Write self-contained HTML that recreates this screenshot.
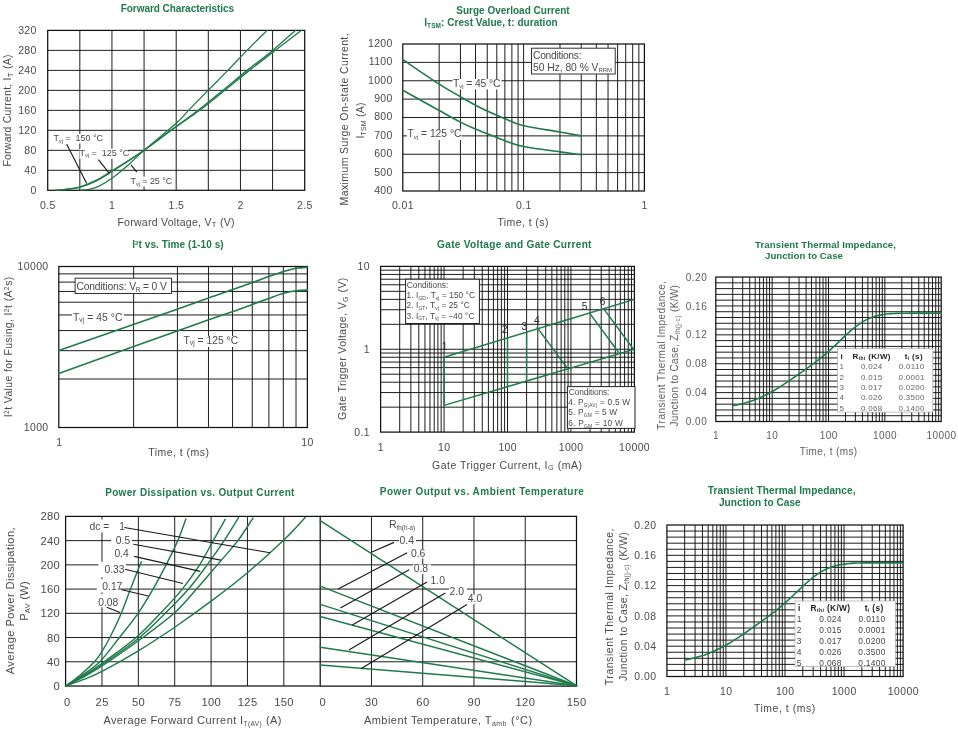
<!DOCTYPE html>
<html lang="en">
<head>
<meta charset="utf-8">
<title>Characteristic Curves</title>
<style>
html,body{margin:0;padding:0;background:#fff;}
body{width:958px;height:733px;overflow:hidden;}
svg{display:block;font-family:"Liberation Sans",sans-serif;}
svg text{white-space:pre;}
</style>
</head>
<body>
<svg width="958" height="733" viewBox="0 0 958 733">
<rect x="0" y="0" width="958" height="733" fill="#ffffff"/>
<g opacity="0.999">
<g id="c1">
<line x1="79.83" y1="30.4" x2="79.83" y2="190.3" stroke="#111" stroke-width="0.95" />
<line x1="47.7" y1="50.39" x2="304.7" y2="50.39" stroke="#111" stroke-width="0.95" />
<line x1="111.95" y1="30.4" x2="111.95" y2="190.3" stroke="#111" stroke-width="0.95" />
<line x1="47.7" y1="70.38" x2="304.7" y2="70.38" stroke="#111" stroke-width="0.95" />
<line x1="144.07" y1="30.4" x2="144.07" y2="190.3" stroke="#111" stroke-width="0.95" />
<line x1="47.7" y1="90.36" x2="304.7" y2="90.36" stroke="#111" stroke-width="0.95" />
<line x1="176.2" y1="30.4" x2="176.2" y2="190.3" stroke="#111" stroke-width="0.95" />
<line x1="47.7" y1="110.35" x2="304.7" y2="110.35" stroke="#111" stroke-width="0.95" />
<line x1="208.32" y1="30.4" x2="208.32" y2="190.3" stroke="#111" stroke-width="0.95" />
<line x1="47.7" y1="130.34" x2="304.7" y2="130.34" stroke="#111" stroke-width="0.95" />
<line x1="240.45" y1="30.4" x2="240.45" y2="190.3" stroke="#111" stroke-width="0.95" />
<line x1="47.7" y1="150.33" x2="304.7" y2="150.33" stroke="#111" stroke-width="0.95" />
<line x1="272.57" y1="30.4" x2="272.57" y2="190.3" stroke="#111" stroke-width="0.95" />
<line x1="47.7" y1="170.31" x2="304.7" y2="170.31" stroke="#111" stroke-width="0.95" />
<rect x="47.7" y="30.4" width="257" height="159.9" fill="none" stroke="#111" stroke-width="1.25"/>
<text x="177.4" y="11.5" font-size="10.0" text-anchor="middle" fill="#1f7a4c" font-weight="bold"  textLength="113.4" lengthAdjust="spacing">Forward Characteristics</text>
<text x="36.75" y="34.2" font-size="10.5" text-anchor="end" fill="#4a4a4a" font-weight="normal"  letter-spacing="0.35">320</text>
<text x="36.75" y="54.19" font-size="10.5" text-anchor="end" fill="#4a4a4a" font-weight="normal"  letter-spacing="0.35">280</text>
<text x="36.75" y="74.17" font-size="10.5" text-anchor="end" fill="#4a4a4a" font-weight="normal"  letter-spacing="0.35">240</text>
<text x="36.75" y="94.16" font-size="10.5" text-anchor="end" fill="#4a4a4a" font-weight="normal"  letter-spacing="0.35">200</text>
<text x="36.75" y="114.15" font-size="10.5" text-anchor="end" fill="#4a4a4a" font-weight="normal"  letter-spacing="0.35">160</text>
<text x="36.75" y="134.14" font-size="10.5" text-anchor="end" fill="#4a4a4a" font-weight="normal"  letter-spacing="0.35">120</text>
<text x="36.75" y="154.13" font-size="10.5" text-anchor="end" fill="#4a4a4a" font-weight="normal"  letter-spacing="0.35">80</text>
<text x="36.75" y="174.11" font-size="10.5" text-anchor="end" fill="#4a4a4a" font-weight="normal"  letter-spacing="0.35">40</text>
<text x="36.75" y="194.1" font-size="10.5" text-anchor="end" fill="#4a4a4a" font-weight="normal"  letter-spacing="0.35">0</text>
<text x="47.88" y="208.5" font-size="10.5" text-anchor="middle" fill="#4a4a4a" font-weight="normal"  letter-spacing="0.35">0.5</text>
<text x="112.12" y="208.5" font-size="10.5" text-anchor="middle" fill="#4a4a4a" font-weight="normal"  letter-spacing="0.35">1</text>
<text x="176.38" y="208.5" font-size="10.5" text-anchor="middle" fill="#4a4a4a" font-weight="normal"  letter-spacing="0.35">1.5</text>
<text x="240.62" y="208.5" font-size="10.5" text-anchor="middle" fill="#4a4a4a" font-weight="normal"  letter-spacing="0.35">2</text>
<text x="304.88" y="208.5" font-size="10.5" text-anchor="middle" fill="#4a4a4a" font-weight="normal"  letter-spacing="0.35">2.5</text>
<text x="176" y="225.6" font-size="10.5" text-anchor="middle" fill="#4a4a4a" font-weight="normal"  textLength="117.2" lengthAdjust="spacing">Forward Voltage, V<tspan font-size="7.5" dy="1.5">T</tspan><tspan dy="-1.5" font-size="1">&#8203;</tspan> (V)</text>
<text x="11.4" y="110.6" font-size="10.5" text-anchor="middle" fill="#4a4a4a" font-weight="normal" transform="rotate(-90 11.4 110.6)"  textLength="112" lengthAdjust="spacing">Forward Current, I<tspan font-size="7.5" dy="1.5">T</tspan><tspan dy="-1.5" font-size="1">&#8203;</tspan> (A)</text>
<rect x="53" y="134" width="49" height="9.5" fill="#fff" stroke="none" stroke-width="1.0"/>
<rect x="79.5" y="148.8" width="48.5" height="10" fill="#fff" stroke="none" stroke-width="1.0"/>
<rect x="130.5" y="176.6" width="41.5" height="10" fill="#fff" stroke="none" stroke-width="1.0"/>
<path d="M55.41,190.1 C56.8,190.01 59.69,190.1 63.76,189.55 C67.83,189 74.47,188.34 79.83,186.8 C85.18,185.26 90.53,182.97 95.89,180.31 C101.24,177.64 106.6,174.06 111.95,170.81 C117.3,167.56 122.66,164.23 128.01,160.82 C133.37,157.4 136.04,155.99 144.07,150.33 C152.11,144.66 166.93,133.5 176.2,126.84 C185.47,120.18 191.62,116.43 199.72,110.35 C207.81,104.27 216.48,97.03 224.77,90.36 C233.06,83.7 241.05,77.04 249.44,70.38 C257.84,63.71 266.51,57.05 275.14,50.39 C283.78,43.73 296.88,33.73 301.23,30.4" fill="none" stroke="#1f7a4c" stroke-width="1.3" stroke-linecap="round" stroke-linejoin="round"/>
<path d="M56.69,190.1 C57.87,190.03 59.91,190.17 63.76,189.7 C67.62,189.23 74.47,188.74 79.83,187.3 C85.18,185.86 90.53,183.68 95.89,181.06 C101.24,178.43 106.6,174.85 111.95,171.56 C117.3,168.27 122.66,164.86 128.01,161.32 C133.37,157.78 136.04,156.15 144.07,150.33 C152.11,144.5 167.18,133 176.2,126.34 C185.22,119.68 190.4,116.35 198.17,110.35 C205.95,104.35 214.69,97.03 222.85,90.36 C231.01,83.7 238.84,77.04 247.13,70.38 C255.42,63.71 264.54,57.05 272.57,50.39 C280.61,43.73 291.53,33.73 295.32,30.4" fill="none" stroke="#1f7a4c" stroke-width="1.3" stroke-linecap="round" stroke-linejoin="round"/>
<path d="M81.11,190.1 C82.4,189.97 85.82,189.98 88.82,189.3 C91.82,188.63 95.25,187.88 99.1,186.05 C102.96,184.22 107.13,181.76 111.95,178.31 C116.77,174.85 122.66,169.98 128.01,165.32 C133.37,160.65 136.04,157.32 144.07,150.33 C152.11,143.33 168.79,130 176.2,123.34 C183.61,116.68 183.22,115.85 188.54,110.35 C193.85,104.85 201.51,97.03 208.07,90.36 C214.62,83.7 221.37,77.04 227.86,70.38 C234.35,63.71 240.47,57.05 247,50.39 C253.54,43.73 263.71,33.73 267.05,30.4" fill="none" stroke="#1f7a4c" stroke-width="1.3" stroke-linecap="round" stroke-linejoin="round"/>
<line x1="66.7" y1="144.2" x2="86.7" y2="183.5" stroke="#1a1a1a" stroke-width="1.15" />
<line x1="98.4" y1="159.7" x2="109.3" y2="173.4" stroke="#1a1a1a" stroke-width="1.15" />
<line x1="131" y1="164.8" x2="136.8" y2="172.1" stroke="#1a1a1a" stroke-width="1.15" />
<text x="53.4" y="141.2" font-size="9.0" text-anchor="start" fill="#4a4a4a" font-weight="normal"  textLength="49.6" lengthAdjust="spacing">T<tspan font-size="5.8" dy="1.5">vj</tspan><tspan dy="-1.5" font-size="1">&#8203;</tspan> =  150 °C</text>
<text x="79.6" y="155.7" font-size="9.0" text-anchor="start" fill="#4a4a4a" font-weight="normal"  textLength="49.6" lengthAdjust="spacing">T<tspan font-size="5.8" dy="1.5">vj</tspan><tspan dy="-1.5" font-size="1">&#8203;</tspan> =  125 °C</text>
<text x="130.6" y="184.2" font-size="9.0" text-anchor="start" fill="#4a4a4a" font-weight="normal"  textLength="41.6" lengthAdjust="spacing">T<tspan font-size="5.8" dy="1.5">vj</tspan><tspan dy="-1.5" font-size="1">&#8203;</tspan> = 25 °C</text>
</g>
<g id="c2">
<line x1="439.16" y1="44" x2="439.16" y2="191" stroke="#111" stroke-width="0.95" />
<line x1="460.44" y1="44" x2="460.44" y2="191" stroke="#111" stroke-width="0.95" />
<line x1="475.53" y1="44" x2="475.53" y2="191" stroke="#111" stroke-width="0.95" />
<line x1="487.24" y1="44" x2="487.24" y2="191" stroke="#111" stroke-width="0.95" />
<line x1="496.8" y1="44" x2="496.8" y2="191" stroke="#111" stroke-width="0.95" />
<line x1="504.89" y1="44" x2="504.89" y2="191" stroke="#111" stroke-width="0.95" />
<line x1="511.89" y1="44" x2="511.89" y2="191" stroke="#111" stroke-width="0.95" />
<line x1="518.07" y1="44" x2="518.07" y2="191" stroke="#111" stroke-width="0.95" />
<line x1="523.6" y1="44" x2="523.6" y2="191" stroke="#111" stroke-width="0.95" />
<line x1="559.96" y1="44" x2="559.96" y2="191" stroke="#111" stroke-width="0.95" />
<line x1="581.24" y1="44" x2="581.24" y2="191" stroke="#111" stroke-width="0.95" />
<line x1="596.33" y1="44" x2="596.33" y2="191" stroke="#111" stroke-width="0.95" />
<line x1="608.04" y1="44" x2="608.04" y2="191" stroke="#111" stroke-width="0.95" />
<line x1="617.6" y1="44" x2="617.6" y2="191" stroke="#111" stroke-width="0.95" />
<line x1="625.69" y1="44" x2="625.69" y2="191" stroke="#111" stroke-width="0.95" />
<line x1="632.69" y1="44" x2="632.69" y2="191" stroke="#111" stroke-width="0.95" />
<line x1="638.87" y1="44" x2="638.87" y2="191" stroke="#111" stroke-width="0.95" />
<line x1="402.8" y1="62.38" x2="644.4" y2="62.38" stroke="#111" stroke-width="0.95" />
<line x1="402.8" y1="80.75" x2="644.4" y2="80.75" stroke="#111" stroke-width="0.95" />
<line x1="402.8" y1="99.12" x2="644.4" y2="99.12" stroke="#111" stroke-width="0.95" />
<line x1="402.8" y1="117.5" x2="644.4" y2="117.5" stroke="#111" stroke-width="0.95" />
<line x1="402.8" y1="135.88" x2="644.4" y2="135.88" stroke="#111" stroke-width="0.95" />
<line x1="402.8" y1="154.25" x2="644.4" y2="154.25" stroke="#111" stroke-width="0.95" />
<line x1="402.8" y1="172.62" x2="644.4" y2="172.62" stroke="#111" stroke-width="0.95" />
<rect x="402.8" y="44" width="241.6" height="147" fill="none" stroke="#111" stroke-width="1.25"/>
<text x="513" y="13.6" font-size="10.0" text-anchor="middle" fill="#1f7a4c" font-weight="bold"  textLength="113.4" lengthAdjust="spacing">Surge Overload Current</text>
<text x="491" y="25.8" font-size="10.0" text-anchor="middle" fill="#1f7a4c" font-weight="bold"  textLength="133.4" lengthAdjust="spacing">I<tspan font-size="6.5" dy="2.2">TSM</tspan><tspan dy="-2.2" font-size="1">&#8203;</tspan>: Crest Value, t: duration</text>
<text x="392.75" y="46.9" font-size="10.5" text-anchor="end" fill="#4a4a4a" font-weight="normal"  letter-spacing="0.35">1200</text>
<text x="392.75" y="65.28" font-size="10.5" text-anchor="end" fill="#4a4a4a" font-weight="normal"  letter-spacing="0.35">1100</text>
<text x="392.75" y="83.65" font-size="10.5" text-anchor="end" fill="#4a4a4a" font-weight="normal"  letter-spacing="0.35">1000</text>
<text x="392.75" y="102.03" font-size="10.5" text-anchor="end" fill="#4a4a4a" font-weight="normal"  letter-spacing="0.35">900</text>
<text x="392.75" y="120.4" font-size="10.5" text-anchor="end" fill="#4a4a4a" font-weight="normal"  letter-spacing="0.35">800</text>
<text x="392.75" y="138.78" font-size="10.5" text-anchor="end" fill="#4a4a4a" font-weight="normal"  letter-spacing="0.35">700</text>
<text x="392.75" y="157.15" font-size="10.5" text-anchor="end" fill="#4a4a4a" font-weight="normal"  letter-spacing="0.35">600</text>
<text x="392.75" y="175.53" font-size="10.5" text-anchor="end" fill="#4a4a4a" font-weight="normal"  letter-spacing="0.35">500</text>
<text x="392.75" y="193.9" font-size="10.5" text-anchor="end" fill="#4a4a4a" font-weight="normal"  letter-spacing="0.35">400</text>
<text x="402.98" y="209.4" font-size="10.5" text-anchor="middle" fill="#4a4a4a" font-weight="normal"  letter-spacing="0.35">0.01</text>
<text x="523.77" y="209.4" font-size="10.5" text-anchor="middle" fill="#4a4a4a" font-weight="normal"  letter-spacing="0.35">0.1</text>
<text x="644.57" y="209.4" font-size="10.5" text-anchor="middle" fill="#4a4a4a" font-weight="normal"  letter-spacing="0.35">1</text>
<text x="522.9" y="225.6" font-size="10.5" text-anchor="middle" fill="#4a4a4a" font-weight="normal"  textLength="51" lengthAdjust="spacing">Time, t (s)</text>
<text x="348.5" y="119.4" font-size="10.5" text-anchor="middle" fill="#4a4a4a" font-weight="normal" transform="rotate(-90 348.5 119.4)"  textLength="172" lengthAdjust="spacing">Maximum Surge On-state Current,</text>
<text x="363.7" y="120.6" font-size="10.5" text-anchor="middle" fill="#4a4a4a" font-weight="normal" transform="rotate(-90 363.7 120.6)"  textLength="36" lengthAdjust="spacing">I<tspan font-size="7" dy="2">TSM</tspan><tspan dy="-2" font-size="1">&#8203;</tspan> (A)</text>
<rect x="531.5" y="48.2" width="83.7" height="25.8" fill="#fff" stroke="#333" stroke-width="1.0"/>
<text x="533" y="59.2" font-size="10.3" text-anchor="start" fill="#4a4a4a" font-weight="normal"  textLength="48.5" lengthAdjust="spacing">Conditions:</text>
<text x="533" y="70.8" font-size="10.3" text-anchor="start" fill="#4a4a4a" font-weight="normal"  textLength="79" lengthAdjust="spacing">50 Hz, 80 % V<tspan font-size="6" dy="1.5">RRM</tspan><tspan dy="-1.5" font-size="1">&#8203;</tspan></text>
<rect x="452.5" y="79" width="49" height="10.5" fill="#fff" stroke="none" stroke-width="1.0"/>
<rect x="407" y="129.5" width="54.5" height="10.5" fill="#fff" stroke="none" stroke-width="1.0"/>
<path d="M402.8,59.62 C408.86,63.69 429.56,77.87 439.16,84.06 C448.77,90.24 454.38,93.21 460.44,96.74 C466.5,100.26 471.06,102.8 475.53,105.19 C480,107.58 482.34,108.8 487.24,111.07 C492.13,113.34 498.83,116.34 504.89,118.79 C510.95,121.24 514.42,123.56 523.6,125.77 C532.78,127.97 550.36,130.33 559.96,132.02 C569.57,133.7 577.69,135.23 581.24,135.88" fill="none" stroke="#1f7a4c" stroke-width="1.6" stroke-linecap="round" stroke-linejoin="round"/>
<path d="M402.8,90.3 C408.86,93.67 429.56,105.22 439.16,110.52 C448.77,115.82 454.38,119 460.44,122.09 C466.5,125.19 471.06,127.15 475.53,129.08 C480,131.01 482.34,131.74 487.24,133.67 C492.13,135.6 498.83,138.51 504.89,140.65 C510.95,142.8 514.42,144.66 523.6,146.53 C532.78,148.4 550.36,150.48 559.96,151.86 C569.57,153.24 577.69,154.31 581.24,154.8" fill="none" stroke="#1f7a4c" stroke-width="1.6" stroke-linecap="round" stroke-linejoin="round"/>
<text x="453" y="86.8" font-size="10.3" text-anchor="start" fill="#4a4a4a" font-weight="normal"  textLength="47.5" lengthAdjust="spacing">T<tspan font-size="6" dy="1.5">vj</tspan><tspan dy="-1.5" font-size="1">&#8203;</tspan> = 45 °C</text>
<text x="407.5" y="137" font-size="10.3" text-anchor="start" fill="#4a4a4a" font-weight="normal"  textLength="54" lengthAdjust="spacing">T<tspan font-size="6" dy="1.5">vj</tspan><tspan dy="-1.5" font-size="1">&#8203;</tspan> = 125 °C</text>
</g>
<g id="c3">
<line x1="133.64" y1="266.5" x2="133.64" y2="427.5" stroke="#111" stroke-width="0.95" />
<line x1="58.8" y1="379.03" x2="307.4" y2="379.03" stroke="#111" stroke-width="0.95" />
<line x1="177.41" y1="266.5" x2="177.41" y2="427.5" stroke="#111" stroke-width="0.95" />
<line x1="58.8" y1="350.68" x2="307.4" y2="350.68" stroke="#111" stroke-width="0.95" />
<line x1="208.47" y1="266.5" x2="208.47" y2="427.5" stroke="#111" stroke-width="0.95" />
<line x1="58.8" y1="330.57" x2="307.4" y2="330.57" stroke="#111" stroke-width="0.95" />
<line x1="232.56" y1="266.5" x2="232.56" y2="427.5" stroke="#111" stroke-width="0.95" />
<line x1="58.8" y1="314.97" x2="307.4" y2="314.97" stroke="#111" stroke-width="0.95" />
<line x1="252.25" y1="266.5" x2="252.25" y2="427.5" stroke="#111" stroke-width="0.95" />
<line x1="58.8" y1="302.22" x2="307.4" y2="302.22" stroke="#111" stroke-width="0.95" />
<line x1="268.89" y1="266.5" x2="268.89" y2="427.5" stroke="#111" stroke-width="0.95" />
<line x1="58.8" y1="291.44" x2="307.4" y2="291.44" stroke="#111" stroke-width="0.95" />
<line x1="283.31" y1="266.5" x2="283.31" y2="427.5" stroke="#111" stroke-width="0.95" />
<line x1="58.8" y1="282.1" x2="307.4" y2="282.1" stroke="#111" stroke-width="0.95" />
<line x1="296.02" y1="266.5" x2="296.02" y2="427.5" stroke="#111" stroke-width="0.95" />
<line x1="58.8" y1="273.87" x2="307.4" y2="273.87" stroke="#111" stroke-width="0.95" />
<rect x="58.8" y="266.5" width="248.6" height="161" fill="none" stroke="#111" stroke-width="1.25"/>
<text x="177.9" y="247.9" font-size="10.0" text-anchor="middle" fill="#1f7a4c" font-weight="bold"  textLength="91.4" lengthAdjust="spacing">I<tspan font-size="6" dy="-3">2</tspan><tspan dy="3" font-size="1">&#8203;</tspan>t vs. Time (1-10 s)</text>
<text x="48.55" y="270.3" font-size="10.5" text-anchor="end" fill="#4a4a4a" font-weight="normal"  letter-spacing="0.35">10000</text>
<text x="48.55" y="431.3" font-size="10.5" text-anchor="end" fill="#4a4a4a" font-weight="normal"  letter-spacing="0.35">1000</text>
<text x="59.1" y="445.6" font-size="10.5" text-anchor="middle" fill="#4a4a4a" font-weight="normal" >1</text>
<text x="307.57" y="445.6" font-size="10.5" text-anchor="middle" fill="#4a4a4a" font-weight="normal"  letter-spacing="0.35">10</text>
<text x="178.6" y="456.4" font-size="10.5" text-anchor="middle" fill="#4a4a4a" font-weight="normal"  textLength="60.6" lengthAdjust="spacing">Time, t (ms)</text>
<text x="12" y="347" font-size="10.5" text-anchor="middle" fill="#4a4a4a" font-weight="normal" transform="rotate(-90 12 347)"  textLength="140.5" lengthAdjust="spacing">I<tspan font-size="6.5" dy="-3.5">2</tspan><tspan dy="3.5" font-size="1">&#8203;</tspan>t Value for Fusing, I<tspan font-size="6.5" dy="-3.5">2</tspan><tspan dy="3.5" font-size="1">&#8203;</tspan>t (A<tspan font-size="6.5" dy="-3.5">2</tspan><tspan dy="3.5" font-size="1">&#8203;</tspan>s)</text>
<rect x="75.1" y="278.2" width="96.4" height="15.3" fill="#fff" stroke="#333" stroke-width="1.0"/>
<text x="76.4" y="289.6" font-size="10.3" text-anchor="start" fill="#4a4a4a" font-weight="normal"  textLength="90.4" lengthAdjust="spacing">Conditions: V<tspan font-size="6.5" dy="2">R</tspan><tspan dy="-2" font-size="1">&#8203;</tspan> = 0 V</text>
<rect x="72" y="313" width="52" height="11" fill="#fff" stroke="none" stroke-width="1.0"/>
<rect x="183" y="336" width="56" height="11" fill="#fff" stroke="none" stroke-width="1.0"/>
<path d="M58.8,350.5 C78.53,343.63 152.22,318.07 177.2,309.3 C202.18,300.53 199.42,301.18 208.7,297.9 C217.98,294.62 225.63,292.13 232.9,289.6 C240.17,287.07 246.23,284.92 252.3,282.7 C258.37,280.48 264.07,278.18 269.3,276.3 C274.53,274.42 279.18,272.75 283.7,271.4 C288.22,270.05 292.45,268.9 296.4,268.2 C300.35,267.5 305.57,267.37 307.4,267.2" fill="none" stroke="#1f7a4c" stroke-width="1.6" stroke-linecap="round" stroke-linejoin="round"/>
<path d="M58.8,373.4 C78.53,366.33 152.22,339.93 177.2,331 C202.18,322.07 199.42,323.05 208.7,319.8 C217.98,316.55 225.63,314.07 232.9,311.5 C240.17,308.93 246.23,306.62 252.3,304.4 C258.37,302.18 264.07,300.05 269.3,298.2 C274.53,296.35 279.18,294.55 283.7,293.3 C288.22,292.05 292.45,291.23 296.4,290.7 C300.35,290.17 305.57,290.2 307.4,290.1" fill="none" stroke="#1f7a4c" stroke-width="1.6" stroke-linecap="round" stroke-linejoin="round"/>
<text x="73" y="320.6" font-size="10.3" text-anchor="start" fill="#4a4a4a" font-weight="normal"  textLength="49.5" lengthAdjust="spacing">T<tspan font-size="6.5" dy="1.5">vj</tspan><tspan dy="-1.5" font-size="1">&#8203;</tspan> = 45 °C</text>
<text x="183.6" y="343.5" font-size="10.3" text-anchor="start" fill="#4a4a4a" font-weight="normal"  textLength="54.5" lengthAdjust="spacing">T<tspan font-size="6.5" dy="1.5">vj</tspan><tspan dy="-1.5" font-size="1">&#8203;</tspan> = 125 °C</text>
</g>
<g id="c4">
<line x1="399.7" y1="266.4" x2="399.7" y2="432.1" stroke="#111" stroke-width="0.95" />
<line x1="410.87" y1="266.4" x2="410.87" y2="432.1" stroke="#111" stroke-width="0.95" />
<line x1="418.8" y1="266.4" x2="418.8" y2="432.1" stroke="#111" stroke-width="0.95" />
<line x1="424.95" y1="266.4" x2="424.95" y2="432.1" stroke="#111" stroke-width="0.95" />
<line x1="429.97" y1="266.4" x2="429.97" y2="432.1" stroke="#111" stroke-width="0.95" />
<line x1="434.22" y1="266.4" x2="434.22" y2="432.1" stroke="#111" stroke-width="0.95" />
<line x1="437.9" y1="266.4" x2="437.9" y2="432.1" stroke="#111" stroke-width="0.95" />
<line x1="441.15" y1="266.4" x2="441.15" y2="432.1" stroke="#111" stroke-width="0.95" />
<line x1="444.05" y1="266.4" x2="444.05" y2="432.1" stroke="#111" stroke-width="0.95" />
<line x1="463.15" y1="266.4" x2="463.15" y2="432.1" stroke="#111" stroke-width="0.95" />
<line x1="474.32" y1="266.4" x2="474.32" y2="432.1" stroke="#111" stroke-width="0.95" />
<line x1="482.25" y1="266.4" x2="482.25" y2="432.1" stroke="#111" stroke-width="0.95" />
<line x1="488.4" y1="266.4" x2="488.4" y2="432.1" stroke="#111" stroke-width="0.95" />
<line x1="493.42" y1="266.4" x2="493.42" y2="432.1" stroke="#111" stroke-width="0.95" />
<line x1="497.67" y1="266.4" x2="497.67" y2="432.1" stroke="#111" stroke-width="0.95" />
<line x1="501.35" y1="266.4" x2="501.35" y2="432.1" stroke="#111" stroke-width="0.95" />
<line x1="504.6" y1="266.4" x2="504.6" y2="432.1" stroke="#111" stroke-width="0.95" />
<line x1="507.5" y1="266.4" x2="507.5" y2="432.1" stroke="#111" stroke-width="0.95" />
<line x1="526.6" y1="266.4" x2="526.6" y2="432.1" stroke="#111" stroke-width="0.95" />
<line x1="537.77" y1="266.4" x2="537.77" y2="432.1" stroke="#111" stroke-width="0.95" />
<line x1="545.7" y1="266.4" x2="545.7" y2="432.1" stroke="#111" stroke-width="0.95" />
<line x1="551.85" y1="266.4" x2="551.85" y2="432.1" stroke="#111" stroke-width="0.95" />
<line x1="556.87" y1="266.4" x2="556.87" y2="432.1" stroke="#111" stroke-width="0.95" />
<line x1="561.12" y1="266.4" x2="561.12" y2="432.1" stroke="#111" stroke-width="0.95" />
<line x1="564.8" y1="266.4" x2="564.8" y2="432.1" stroke="#111" stroke-width="0.95" />
<line x1="568.05" y1="266.4" x2="568.05" y2="432.1" stroke="#111" stroke-width="0.95" />
<line x1="570.95" y1="266.4" x2="570.95" y2="432.1" stroke="#111" stroke-width="0.95" />
<line x1="590.05" y1="266.4" x2="590.05" y2="432.1" stroke="#111" stroke-width="0.95" />
<line x1="601.22" y1="266.4" x2="601.22" y2="432.1" stroke="#111" stroke-width="0.95" />
<line x1="609.15" y1="266.4" x2="609.15" y2="432.1" stroke="#111" stroke-width="0.95" />
<line x1="615.3" y1="266.4" x2="615.3" y2="432.1" stroke="#111" stroke-width="0.95" />
<line x1="620.32" y1="266.4" x2="620.32" y2="432.1" stroke="#111" stroke-width="0.95" />
<line x1="624.57" y1="266.4" x2="624.57" y2="432.1" stroke="#111" stroke-width="0.95" />
<line x1="628.25" y1="266.4" x2="628.25" y2="432.1" stroke="#111" stroke-width="0.95" />
<line x1="631.5" y1="266.4" x2="631.5" y2="432.1" stroke="#111" stroke-width="0.95" />
<line x1="380.6" y1="407.16" x2="634.4" y2="407.16" stroke="#111" stroke-width="0.95" />
<line x1="380.6" y1="392.57" x2="634.4" y2="392.57" stroke="#111" stroke-width="0.95" />
<line x1="380.6" y1="382.22" x2="634.4" y2="382.22" stroke="#111" stroke-width="0.95" />
<line x1="380.6" y1="374.19" x2="634.4" y2="374.19" stroke="#111" stroke-width="0.95" />
<line x1="380.6" y1="367.63" x2="634.4" y2="367.63" stroke="#111" stroke-width="0.95" />
<line x1="380.6" y1="362.08" x2="634.4" y2="362.08" stroke="#111" stroke-width="0.95" />
<line x1="380.6" y1="357.28" x2="634.4" y2="357.28" stroke="#111" stroke-width="0.95" />
<line x1="380.6" y1="353.04" x2="634.4" y2="353.04" stroke="#111" stroke-width="0.95" />
<line x1="380.6" y1="349.25" x2="634.4" y2="349.25" stroke="#111" stroke-width="0.95" />
<line x1="380.6" y1="324.31" x2="634.4" y2="324.31" stroke="#111" stroke-width="0.95" />
<line x1="380.6" y1="309.72" x2="634.4" y2="309.72" stroke="#111" stroke-width="0.95" />
<line x1="380.6" y1="299.37" x2="634.4" y2="299.37" stroke="#111" stroke-width="0.95" />
<line x1="380.6" y1="291.34" x2="634.4" y2="291.34" stroke="#111" stroke-width="0.95" />
<line x1="380.6" y1="284.78" x2="634.4" y2="284.78" stroke="#111" stroke-width="0.95" />
<line x1="380.6" y1="279.23" x2="634.4" y2="279.23" stroke="#111" stroke-width="0.95" />
<line x1="380.6" y1="274.43" x2="634.4" y2="274.43" stroke="#111" stroke-width="0.95" />
<line x1="380.6" y1="270.19" x2="634.4" y2="270.19" stroke="#111" stroke-width="0.95" />
<rect x="380.6" y="266.4" width="253.8" height="165.7" fill="none" stroke="#111" stroke-width="1.25"/>
<text x="514.3" y="247.9" font-size="10.1" text-anchor="middle" fill="#1f7a4c" font-weight="bold"  textLength="154.4" lengthAdjust="spacing">Gate Voltage and Gate Current</text>
<text x="369.95" y="270.2" font-size="10.5" text-anchor="end" fill="#4a4a4a" font-weight="normal"  letter-spacing="0.35">10</text>
<text x="369.6" y="353.05" font-size="10.5" text-anchor="end" fill="#4a4a4a" font-weight="normal" >1</text>
<text x="369.95" y="435.9" font-size="10.5" text-anchor="end" fill="#4a4a4a" font-weight="normal"  letter-spacing="0.35">0.1</text>
<text x="380.78" y="450.8" font-size="10.5" text-anchor="middle" fill="#4a4a4a" font-weight="normal"  letter-spacing="0.35">1</text>
<text x="444.23" y="450.8" font-size="10.5" text-anchor="middle" fill="#4a4a4a" font-weight="normal"  letter-spacing="0.35">10</text>
<text x="507.68" y="450.8" font-size="10.5" text-anchor="middle" fill="#4a4a4a" font-weight="normal"  letter-spacing="0.35">100</text>
<text x="571.12" y="450.8" font-size="10.5" text-anchor="middle" fill="#4a4a4a" font-weight="normal"  letter-spacing="0.35">1000</text>
<text x="634.57" y="450.8" font-size="10.5" text-anchor="middle" fill="#4a4a4a" font-weight="normal"  letter-spacing="0.35">10000</text>
<text x="507" y="468.9" font-size="10.5" text-anchor="middle" fill="#4a4a4a" font-weight="normal"  textLength="149.8" lengthAdjust="spacing">Gate Trigger Current, I<tspan font-size="7" dy="1.5">G</tspan><tspan dy="-1.5" font-size="1">&#8203;</tspan> (mA)</text>
<text x="346.5" y="348.8" font-size="10.5" text-anchor="middle" fill="#4a4a4a" font-weight="normal" transform="rotate(-90 346.5 348.8)"  textLength="142.2" lengthAdjust="spacing">Gate Trigger Voltage, V<tspan font-size="7" dy="1.5">G</tspan><tspan dy="-1.5" font-size="1">&#8203;</tspan> (V)</text>
<line x1="444.05" y1="357.28" x2="634.4" y2="299.37" stroke="#1f7a4c" stroke-width="1.5" />
<line x1="444.05" y1="405.4" x2="634.4" y2="349.25" stroke="#1f7a4c" stroke-width="1.5" />
<line x1="444.05" y1="357.28" x2="444.05" y2="405.4" stroke="#1f7a4c" stroke-width="1.5" />
<line x1="507.5" y1="337.98" x2="507.5" y2="386.69" stroke="#1f7a4c" stroke-width="1.5" />
<line x1="526.6" y1="332.16" x2="526.6" y2="381.05" stroke="#1f7a4c" stroke-width="1.5" />
<line x1="536.8" y1="327.1" x2="567" y2="367.7" stroke="#1f7a4c" stroke-width="1.5" />
<line x1="589.4" y1="312.9" x2="618.5" y2="352.3" stroke="#1f7a4c" stroke-width="1.5" />
<line x1="604.3" y1="309.6" x2="633.9" y2="349.7" stroke="#1f7a4c" stroke-width="1.5" />
<text x="444.6" y="350.4" font-size="10.2" text-anchor="middle" fill="#2a2a2a" font-weight="normal" >1</text>
<text x="504.5" y="333.2" font-size="10.2" text-anchor="middle" fill="#2a2a2a" font-weight="normal" >2</text>
<text x="524.3" y="330" font-size="10.2" text-anchor="middle" fill="#2a2a2a" font-weight="normal" >3</text>
<text x="536.8" y="323.6" font-size="10.2" text-anchor="middle" fill="#2a2a2a" font-weight="normal" >4</text>
<text x="584.5" y="310.4" font-size="10.2" text-anchor="middle" fill="#2a2a2a" font-weight="normal" >5</text>
<text x="602.5" y="304.8" font-size="10.2" text-anchor="middle" fill="#2a2a2a" font-weight="normal" >6</text>
<rect x="405.6" y="279.2" width="73.8" height="44.3" fill="#fff" stroke="#222" stroke-width="1.0"/>
<text x="406.8" y="288.2" font-size="8.3" text-anchor="start" fill="#4a4a4a" font-weight="normal"  textLength="41.5" lengthAdjust="spacing">Conditions:</text>
<text x="406.6" y="298.2" font-size="8.3" text-anchor="start" fill="#4a4a4a" font-weight="normal"  textLength="68.4" lengthAdjust="spacing">1. I<tspan font-size="5" dy="1.5">GD</tspan><tspan dy="-1.5" font-size="1">&#8203;</tspan>, T<tspan font-size="5" dy="1.5">vj</tspan><tspan dy="-1.5" font-size="1">&#8203;</tspan> = 150 °C</text>
<text x="406.6" y="308.4" font-size="8.3" text-anchor="start" fill="#4a4a4a" font-weight="normal"  textLength="63.2" lengthAdjust="spacing">2. I<tspan font-size="5" dy="1.5">GT</tspan><tspan dy="-1.5" font-size="1">&#8203;</tspan>, T<tspan font-size="5" dy="1.5">vj</tspan><tspan dy="-1.5" font-size="1">&#8203;</tspan> = 25 °C</text>
<text x="406.6" y="318.8" font-size="8.3" text-anchor="start" fill="#4a4a4a" font-weight="normal"  textLength="67.8" lengthAdjust="spacing">3. I<tspan font-size="5" dy="1.5">GT</tspan><tspan dy="-1.5" font-size="1">&#8203;</tspan>, T<tspan font-size="5" dy="1.5">vj</tspan><tspan dy="-1.5" font-size="1">&#8203;</tspan> = −40 °C</text>
<rect x="567.4" y="386.6" width="67.6" height="41.8" fill="#fff" stroke="#222" stroke-width="1.0"/>
<text x="568.8" y="395" font-size="8.3" text-anchor="start" fill="#4a4a4a" font-weight="normal"  textLength="40.6" lengthAdjust="spacing">Conditions:</text>
<text x="568.2" y="405" font-size="8.3" text-anchor="start" fill="#4a4a4a" font-weight="normal"  textLength="61.8" lengthAdjust="spacing">4. P<tspan font-size="4.8" dy="2">G(AV)</tspan><tspan dy="-2" font-size="1">&#8203;</tspan> = 0.5 W</text>
<text x="568.2" y="415.4" font-size="8.3" text-anchor="start" fill="#4a4a4a" font-weight="normal"  textLength="49" lengthAdjust="spacing">5. P<tspan font-size="4.8" dy="2">GM</tspan><tspan dy="-2" font-size="1">&#8203;</tspan> = 5 W</text>
<text x="568.2" y="425.6" font-size="8.3" text-anchor="start" fill="#4a4a4a" font-weight="normal"  textLength="54.6" lengthAdjust="spacing">6. P<tspan font-size="4.8" dy="2">GM</tspan><tspan dy="-2" font-size="1">&#8203;</tspan> = 10 W</text>
</g>
<g id="c5">
<line x1="732.76" y1="277.05" x2="732.76" y2="421.5" stroke="#111" stroke-width="0.95" />
<line x1="742.69" y1="277.05" x2="742.69" y2="421.5" stroke="#111" stroke-width="0.95" />
<line x1="749.73" y1="277.05" x2="749.73" y2="421.5" stroke="#111" stroke-width="0.95" />
<line x1="755.19" y1="277.05" x2="755.19" y2="421.5" stroke="#111" stroke-width="0.95" />
<line x1="759.65" y1="277.05" x2="759.65" y2="421.5" stroke="#111" stroke-width="0.95" />
<line x1="763.42" y1="277.05" x2="763.42" y2="421.5" stroke="#111" stroke-width="0.95" />
<line x1="766.69" y1="277.05" x2="766.69" y2="421.5" stroke="#111" stroke-width="0.95" />
<line x1="769.57" y1="277.05" x2="769.57" y2="421.5" stroke="#111" stroke-width="0.95" />
<line x1="772.15" y1="277.05" x2="772.15" y2="421.5" stroke="#111" stroke-width="0.95" />
<line x1="789.11" y1="277.05" x2="789.11" y2="421.5" stroke="#111" stroke-width="0.95" />
<line x1="799.04" y1="277.05" x2="799.04" y2="421.5" stroke="#111" stroke-width="0.95" />
<line x1="806.08" y1="277.05" x2="806.08" y2="421.5" stroke="#111" stroke-width="0.95" />
<line x1="811.54" y1="277.05" x2="811.54" y2="421.5" stroke="#111" stroke-width="0.95" />
<line x1="816" y1="277.05" x2="816" y2="421.5" stroke="#111" stroke-width="0.95" />
<line x1="819.77" y1="277.05" x2="819.77" y2="421.5" stroke="#111" stroke-width="0.95" />
<line x1="823.04" y1="277.05" x2="823.04" y2="421.5" stroke="#111" stroke-width="0.95" />
<line x1="825.92" y1="277.05" x2="825.92" y2="421.5" stroke="#111" stroke-width="0.95" />
<line x1="828.5" y1="277.05" x2="828.5" y2="421.5" stroke="#111" stroke-width="0.95" />
<line x1="845.46" y1="277.05" x2="845.46" y2="421.5" stroke="#111" stroke-width="0.95" />
<line x1="855.39" y1="277.05" x2="855.39" y2="421.5" stroke="#111" stroke-width="0.95" />
<line x1="862.43" y1="277.05" x2="862.43" y2="421.5" stroke="#111" stroke-width="0.95" />
<line x1="867.89" y1="277.05" x2="867.89" y2="421.5" stroke="#111" stroke-width="0.95" />
<line x1="872.35" y1="277.05" x2="872.35" y2="421.5" stroke="#111" stroke-width="0.95" />
<line x1="876.12" y1="277.05" x2="876.12" y2="421.5" stroke="#111" stroke-width="0.95" />
<line x1="879.39" y1="277.05" x2="879.39" y2="421.5" stroke="#111" stroke-width="0.95" />
<line x1="882.27" y1="277.05" x2="882.27" y2="421.5" stroke="#111" stroke-width="0.95" />
<line x1="884.85" y1="277.05" x2="884.85" y2="421.5" stroke="#111" stroke-width="0.95" />
<line x1="901.81" y1="277.05" x2="901.81" y2="421.5" stroke="#111" stroke-width="0.95" />
<line x1="911.74" y1="277.05" x2="911.74" y2="421.5" stroke="#111" stroke-width="0.95" />
<line x1="918.78" y1="277.05" x2="918.78" y2="421.5" stroke="#111" stroke-width="0.95" />
<line x1="924.24" y1="277.05" x2="924.24" y2="421.5" stroke="#111" stroke-width="0.95" />
<line x1="928.7" y1="277.05" x2="928.7" y2="421.5" stroke="#111" stroke-width="0.95" />
<line x1="932.47" y1="277.05" x2="932.47" y2="421.5" stroke="#111" stroke-width="0.95" />
<line x1="935.74" y1="277.05" x2="935.74" y2="421.5" stroke="#111" stroke-width="0.95" />
<line x1="938.62" y1="277.05" x2="938.62" y2="421.5" stroke="#111" stroke-width="0.95" />
<line x1="715.8" y1="282.83" x2="941.2" y2="282.83" stroke="#111" stroke-width="0.95" />
<line x1="715.8" y1="288.61" x2="941.2" y2="288.61" stroke="#111" stroke-width="0.95" />
<line x1="715.8" y1="294.38" x2="941.2" y2="294.38" stroke="#111" stroke-width="0.95" />
<line x1="715.8" y1="300.16" x2="941.2" y2="300.16" stroke="#111" stroke-width="0.95" />
<line x1="715.8" y1="305.94" x2="941.2" y2="305.94" stroke="#111" stroke-width="0.95" />
<line x1="715.8" y1="311.72" x2="941.2" y2="311.72" stroke="#111" stroke-width="0.95" />
<line x1="715.8" y1="317.5" x2="941.2" y2="317.5" stroke="#111" stroke-width="0.95" />
<line x1="715.8" y1="323.27" x2="941.2" y2="323.27" stroke="#111" stroke-width="0.95" />
<line x1="715.8" y1="329.05" x2="941.2" y2="329.05" stroke="#111" stroke-width="0.95" />
<line x1="715.8" y1="334.83" x2="941.2" y2="334.83" stroke="#111" stroke-width="0.95" />
<line x1="715.8" y1="340.61" x2="941.2" y2="340.61" stroke="#111" stroke-width="0.95" />
<line x1="715.8" y1="346.39" x2="941.2" y2="346.39" stroke="#111" stroke-width="0.95" />
<line x1="715.8" y1="352.16" x2="941.2" y2="352.16" stroke="#111" stroke-width="0.95" />
<line x1="715.8" y1="357.94" x2="941.2" y2="357.94" stroke="#111" stroke-width="0.95" />
<line x1="715.8" y1="363.72" x2="941.2" y2="363.72" stroke="#111" stroke-width="0.95" />
<line x1="715.8" y1="369.5" x2="941.2" y2="369.5" stroke="#111" stroke-width="0.95" />
<line x1="715.8" y1="375.28" x2="941.2" y2="375.28" stroke="#111" stroke-width="0.95" />
<line x1="715.8" y1="381.05" x2="941.2" y2="381.05" stroke="#111" stroke-width="0.95" />
<line x1="715.8" y1="386.83" x2="941.2" y2="386.83" stroke="#111" stroke-width="0.95" />
<line x1="715.8" y1="392.61" x2="941.2" y2="392.61" stroke="#111" stroke-width="0.95" />
<line x1="715.8" y1="398.39" x2="941.2" y2="398.39" stroke="#111" stroke-width="0.95" />
<line x1="715.8" y1="404.17" x2="941.2" y2="404.17" stroke="#111" stroke-width="0.95" />
<line x1="715.8" y1="409.94" x2="941.2" y2="409.94" stroke="#111" stroke-width="0.95" />
<line x1="715.8" y1="415.72" x2="941.2" y2="415.72" stroke="#111" stroke-width="0.95" />
<rect x="715.8" y="277.05" width="225.4" height="144.45" fill="none" stroke="#111" stroke-width="1.25"/>
<text x="825.5" y="247.8" font-size="9.7" text-anchor="middle" fill="#1f7a4c" font-weight="bold"  textLength="141" lengthAdjust="spacing">Transient Thermal Impedance,</text>
<text x="804" y="258.6" font-size="9.7" text-anchor="middle" fill="#1f7a4c" font-weight="bold"  textLength="78" lengthAdjust="spacing">Junction to Case</text>
<text x="707.35" y="280.65" font-size="10.0" text-anchor="end" fill="#5e5e5e" font-weight="normal"  letter-spacing="0.55">0.20</text>
<text x="707.35" y="309.54" font-size="10.0" text-anchor="end" fill="#5e5e5e" font-weight="normal"  letter-spacing="0.55">0.16</text>
<text x="707.35" y="338.43" font-size="10.0" text-anchor="end" fill="#5e5e5e" font-weight="normal"  letter-spacing="0.55">0.12</text>
<text x="707.35" y="367.32" font-size="10.0" text-anchor="end" fill="#5e5e5e" font-weight="normal"  letter-spacing="0.55">0.08</text>
<text x="707.35" y="396.21" font-size="10.0" text-anchor="end" fill="#5e5e5e" font-weight="normal"  letter-spacing="0.55">0.04</text>
<text x="707.35" y="425.1" font-size="10.0" text-anchor="end" fill="#5e5e5e" font-weight="normal"  letter-spacing="0.55">0.00</text>
<text x="716.02" y="439.4" font-size="10.0" text-anchor="middle" fill="#5e5e5e" font-weight="normal"  letter-spacing="0.45">1</text>
<text x="772.38" y="439.4" font-size="10.0" text-anchor="middle" fill="#5e5e5e" font-weight="normal"  letter-spacing="0.45">10</text>
<text x="828.73" y="439.4" font-size="10.0" text-anchor="middle" fill="#5e5e5e" font-weight="normal"  letter-spacing="0.45">100</text>
<text x="885.08" y="439.4" font-size="10.0" text-anchor="middle" fill="#5e5e5e" font-weight="normal"  letter-spacing="0.45">1000</text>
<text x="941.43" y="439.4" font-size="10.0" text-anchor="middle" fill="#5e5e5e" font-weight="normal"  letter-spacing="0.45">10000</text>
<text x="828.5" y="454.9" font-size="10.0" text-anchor="middle" fill="#5e5e5e" font-weight="normal"  textLength="57.4" lengthAdjust="spacing">Time, t (ms)</text>
<text x="664.9" y="355.3" font-size="10.0" text-anchor="middle" fill="#5e5e5e" font-weight="normal" transform="rotate(-90 664.9 355.3)"  textLength="148.7" lengthAdjust="spacing">Transient Thermal Impedance,</text>
<text x="678.4" y="355.8" font-size="10.0" text-anchor="middle" fill="#5e5e5e" font-weight="normal" transform="rotate(-90 678.4 355.8)"  textLength="141.5" lengthAdjust="spacing">Junction to Case, Z<tspan font-size="6.5" dy="1.5">th(j-c)</tspan><tspan dy="-1.5" font-size="1">&#8203;</tspan> (K/W)</text>
<path d="M732.76,405.81 L735.37,405.31 L737.97,404.75 L740.58,404.15 L743.18,403.49 L745.79,402.77 L748.4,401.98 L751,401.14 L753.61,400.22 L756.21,399.23 L758.82,398.17 L761.42,397.04 L764.03,395.82 L766.63,394.54 L769.24,393.18 L771.84,391.74 L774.45,390.24 L777.06,388.68 L779.66,387.06 L782.27,385.38 L784.87,383.67 L787.48,381.92 L790.08,380.14 L792.69,378.34 L795.29,376.53 L797.9,374.71 L800.51,372.88 L803.11,371.04 L805.72,369.2 L808.32,367.33 L810.93,365.44 L813.53,363.52 L816.14,361.56 L818.74,359.54 L821.35,357.46 L823.95,355.31 L826.56,353.1 L829.17,350.81 L831.77,348.46 L834.38,346.05 L836.98,343.59 L839.59,341.11 L842.19,338.63 L844.8,336.16 L847.4,333.74 L850.01,331.39 L852.61,329.15 L855.22,327.02 L857.83,325.05 L860.43,323.24 L863.04,321.61 L865.64,320.15 L868.25,318.88 L870.85,317.78 L873.46,316.84 L876.06,316.05 L878.67,315.39 L881.27,314.86 L883.88,314.42 L886.49,314.07 L889.09,313.8 L891.7,313.6 L894.3,313.44 L896.91,313.34 L899.51,313.27 L902.12,313.22 L904.72,313.19 L907.33,313.18 L909.93,313.17 L912.54,313.17 L915.15,313.16 L917.75,313.16 L920.36,313.16 L922.96,313.16 L925.57,313.16 L928.17,313.16 L930.78,313.16 L933.38,313.16 L935.99,313.16 L938.59,313.16 L941.2,313.16" fill="none" stroke="#1f7a4c" stroke-width="1.6" stroke-linecap="round" stroke-linejoin="round"/>
<rect x="837.6" y="348.7" width="95.3" height="63.4" fill="#fff" stroke="#aaa" stroke-width="0.7"/>
<text x="841.7" y="358.6" font-size="8.0" text-anchor="middle" fill="#222" font-weight="bold" >i</text>
<text x="871.67" y="358.6" font-size="8.0" text-anchor="middle" fill="#222" font-weight="bold"  letter-spacing="0.35">R<tspan font-size="4.8" dy="1.2">thi</tspan><tspan dy="-1.2" font-size="1">&#8203;</tspan> (K/W)</text>
<text x="913.88" y="358.6" font-size="8.0" text-anchor="middle" fill="#222" font-weight="bold"  letter-spacing="0.35">t<tspan font-size="4.8" dy="1.2">i</tspan><tspan dy="-1.2" font-size="1">&#8203;</tspan> (s)</text>
<text x="841.7" y="369" font-size="8.0" text-anchor="middle" fill="#666" font-weight="normal" >1</text>
<text x="871.65" y="369" font-size="8.0" text-anchor="middle" fill="#666" font-weight="normal"  letter-spacing="0.3">0.024</text>
<text x="911.65" y="369" font-size="8.0" text-anchor="middle" fill="#666" font-weight="normal"  letter-spacing="0.3">0.0110</text>
<text x="841.7" y="379.5" font-size="8.0" text-anchor="middle" fill="#666" font-weight="normal" >2</text>
<text x="871.65" y="379.5" font-size="8.0" text-anchor="middle" fill="#666" font-weight="normal"  letter-spacing="0.3">0.015</text>
<text x="911.65" y="379.5" font-size="8.0" text-anchor="middle" fill="#666" font-weight="normal"  letter-spacing="0.3">0.0001</text>
<text x="841.7" y="390" font-size="8.0" text-anchor="middle" fill="#666" font-weight="normal" >3</text>
<text x="871.65" y="390" font-size="8.0" text-anchor="middle" fill="#666" font-weight="normal"  letter-spacing="0.3">0.017</text>
<text x="911.65" y="390" font-size="8.0" text-anchor="middle" fill="#666" font-weight="normal"  letter-spacing="0.3">0.0200</text>
<text x="841.7" y="400.4" font-size="8.0" text-anchor="middle" fill="#666" font-weight="normal" >4</text>
<text x="871.65" y="400.4" font-size="8.0" text-anchor="middle" fill="#666" font-weight="normal"  letter-spacing="0.3">0.026</text>
<text x="911.65" y="400.4" font-size="8.0" text-anchor="middle" fill="#666" font-weight="normal"  letter-spacing="0.3">0.3500</text>
<text x="841.7" y="410.8" font-size="8.0" text-anchor="middle" fill="#666" font-weight="normal" >5</text>
<text x="871.65" y="410.8" font-size="8.0" text-anchor="middle" fill="#666" font-weight="normal"  letter-spacing="0.3">0.068</text>
<text x="911.65" y="410.8" font-size="8.0" text-anchor="middle" fill="#666" font-weight="normal"  letter-spacing="0.3">0.1400</text>
</g>
<g id="c6">
<line x1="101.97" y1="516.4" x2="101.97" y2="686" stroke="#111" stroke-width="0.95" />
<line x1="65.6" y1="540.63" x2="320.2" y2="540.63" stroke="#111" stroke-width="0.95" />
<line x1="138.34" y1="516.4" x2="138.34" y2="686" stroke="#111" stroke-width="0.95" />
<line x1="65.6" y1="564.86" x2="320.2" y2="564.86" stroke="#111" stroke-width="0.95" />
<line x1="174.71" y1="516.4" x2="174.71" y2="686" stroke="#111" stroke-width="0.95" />
<line x1="65.6" y1="589.09" x2="320.2" y2="589.09" stroke="#111" stroke-width="0.95" />
<line x1="211.09" y1="516.4" x2="211.09" y2="686" stroke="#111" stroke-width="0.95" />
<line x1="65.6" y1="613.31" x2="320.2" y2="613.31" stroke="#111" stroke-width="0.95" />
<line x1="247.46" y1="516.4" x2="247.46" y2="686" stroke="#111" stroke-width="0.95" />
<line x1="65.6" y1="637.54" x2="320.2" y2="637.54" stroke="#111" stroke-width="0.95" />
<line x1="283.83" y1="516.4" x2="283.83" y2="686" stroke="#111" stroke-width="0.95" />
<line x1="65.6" y1="661.77" x2="320.2" y2="661.77" stroke="#111" stroke-width="0.95" />
<rect x="65.6" y="516.4" width="254.6" height="169.6" fill="none" stroke="#111" stroke-width="1.25"/>
<text x="199.8" y="496" font-size="10.0" text-anchor="middle" fill="#1f7a4c" font-weight="bold"  textLength="189.3" lengthAdjust="spacing">Power Dissipation vs. Output Current</text>
<text x="60.15" y="520.4" font-size="11.2" text-anchor="end" fill="#4a4a4a" font-weight="normal"  letter-spacing="0.35">280</text>
<text x="60.15" y="544.63" font-size="11.2" text-anchor="end" fill="#4a4a4a" font-weight="normal"  letter-spacing="0.35">240</text>
<text x="60.15" y="568.86" font-size="11.2" text-anchor="end" fill="#4a4a4a" font-weight="normal"  letter-spacing="0.35">200</text>
<text x="60.15" y="593.09" font-size="11.2" text-anchor="end" fill="#4a4a4a" font-weight="normal"  letter-spacing="0.35">160</text>
<text x="60.15" y="617.31" font-size="11.2" text-anchor="end" fill="#4a4a4a" font-weight="normal"  letter-spacing="0.35">120</text>
<text x="60.15" y="641.54" font-size="11.2" text-anchor="end" fill="#4a4a4a" font-weight="normal"  letter-spacing="0.35">80</text>
<text x="60.15" y="665.77" font-size="11.2" text-anchor="end" fill="#4a4a4a" font-weight="normal"  letter-spacing="0.35">40</text>
<text x="60.15" y="690" font-size="11.2" text-anchor="end" fill="#4a4a4a" font-weight="normal"  letter-spacing="0.35">0</text>
<text x="67.27" y="705.5" font-size="11.2" text-anchor="middle" fill="#4a4a4a" font-weight="normal"  letter-spacing="0.35">0</text>
<text x="102.15" y="705.5" font-size="11.2" text-anchor="middle" fill="#4a4a4a" font-weight="normal"  letter-spacing="0.35">25</text>
<text x="138.52" y="705.5" font-size="11.2" text-anchor="middle" fill="#4a4a4a" font-weight="normal"  letter-spacing="0.35">50</text>
<text x="174.89" y="705.5" font-size="11.2" text-anchor="middle" fill="#4a4a4a" font-weight="normal"  letter-spacing="0.35">75</text>
<text x="211.26" y="705.5" font-size="11.2" text-anchor="middle" fill="#4a4a4a" font-weight="normal"  letter-spacing="0.35">100</text>
<text x="247.63" y="705.5" font-size="11.2" text-anchor="middle" fill="#4a4a4a" font-weight="normal"  letter-spacing="0.35">125</text>
<text x="284" y="705.5" font-size="11.2" text-anchor="middle" fill="#4a4a4a" font-weight="normal"  letter-spacing="0.35">150</text>
<text x="192.4" y="724" font-size="11.0" text-anchor="middle" fill="#4a4a4a" font-weight="normal"  textLength="178" lengthAdjust="spacing">Average Forward Current I<tspan font-size="6.5" dy="2">T(AV)</tspan><tspan dy="-2" font-size="1">&#8203;</tspan> (A)</text>
<text x="13.6" y="600.8" font-size="11.2" text-anchor="middle" fill="#4a4a4a" font-weight="normal" transform="rotate(-90 13.6 600.8)"  textLength="147" lengthAdjust="spacing">Average Power Dissipation,</text>
<text x="27.6" y="601.1" font-size="11.2" text-anchor="middle" fill="#4a4a4a" font-weight="normal" transform="rotate(-90 27.6 601.1)"  textLength="39.5" lengthAdjust="spacing">P<tspan font-size="7.5" dy="2">AV</tspan><tspan dy="-2" font-size="1">&#8203;</tspan> (W)</text>
<rect x="88.5" y="519.5" width="35.5" height="13" fill="#fff" stroke="none" stroke-width="1.0"/>
<rect x="111" y="535" width="21" height="11" fill="#fff" stroke="none" stroke-width="1.0"/>
<rect x="113" y="548" width="18.5" height="10" fill="#fff" stroke="none" stroke-width="1.0"/>
<rect x="98.3" y="561.8" width="27.7" height="15.5" fill="#fff" stroke="none" stroke-width="1.0"/>
<rect x="96.8" y="579.2" width="22.5" height="13.3" fill="#fff" stroke="none" stroke-width="1.0"/>
<rect x="96.5" y="594.2" width="23.5" height="13" fill="#fff" stroke="none" stroke-width="1.0"/>
<path d="M65.6,686 C68.51,684.94 77,682.06 83.06,679.64 C89.12,677.22 92.76,676.26 101.97,671.46 C111.19,666.67 126.22,658.24 138.34,650.87 C150.47,643.5 162.59,635.52 174.71,627.25 C186.84,618.97 198.96,610.29 211.09,601.2 C223.21,592.11 235.33,582.93 247.46,572.73 C259.58,562.54 274.2,549.21 283.83,540.02 C293.45,530.84 301.65,521.35 305.21,517.61" fill="none" stroke="#1f7a4c" stroke-width="1.45" stroke-linecap="round" stroke-linejoin="round"/>
<path d="M65.6,686 C68.99,684.28 78.81,679.74 85.97,675.7 C93.12,671.66 99.04,668.13 108.52,661.77 C118,655.41 131.94,645.62 142.85,637.54 C153.76,629.47 165.04,621.39 173.99,613.31 C182.93,605.24 189.31,597.16 196.54,589.09 C203.76,581.01 210.46,572.93 217.34,564.86 C224.23,556.78 231.91,548.43 237.86,540.63 C243.8,532.82 250.46,521.8 252.99,518.04" fill="none" stroke="#1f7a4c" stroke-width="1.45" stroke-linecap="round" stroke-linejoin="round"/>
<path d="M65.6,686 C68.75,684.28 77.72,679.74 84.51,675.7 C91.3,671.66 97.17,668.13 106.34,661.77 C115.5,655.41 129.69,645.62 139.51,637.54 C149.33,629.47 157.09,621.39 165.26,613.31 C173.43,605.24 181.55,597.16 188.54,589.09 C195.52,581.01 201.22,572.93 207.16,564.86 C213.1,556.78 218.94,548.5 224.18,540.63 C229.42,532.75 236.18,521.45 238.58,517.61" fill="none" stroke="#1f7a4c" stroke-width="1.45" stroke-linecap="round" stroke-linejoin="round"/>
<path d="M65.6,686 C68.63,684.28 77.36,679.74 83.79,675.7 C90.21,671.66 95.42,668.13 104.15,661.77 C112.88,655.41 126.78,645.62 136.16,637.54 C145.54,629.47 152.77,621.39 160.46,613.31 C168.14,605.24 175.76,597.16 182.28,589.09 C188.8,581.01 194.43,572.93 199.59,564.86 C204.76,556.78 209,548.2 213.27,540.63 C217.54,533.06 223.21,522.96 225.2,519.43" fill="none" stroke="#1f7a4c" stroke-width="1.45" stroke-linecap="round" stroke-linejoin="round"/>
<path d="M65.6,686 C68.27,684.28 75.91,679.74 81.6,675.7 C87.3,671.66 93.48,668.13 99.79,661.77 C106.09,655.41 113.05,645.62 119.43,637.54 C125.81,629.47 132.45,621.39 138.05,613.31 C143.65,605.24 148.36,597.16 153.04,589.09 C157.72,581.01 162.01,572.93 166.13,564.86 C170.25,556.78 174.47,548.3 177.77,540.63 C181.07,532.96 184.56,522.46 185.92,518.82" fill="none" stroke="#1f7a4c" stroke-width="1.45" stroke-linecap="round" stroke-linejoin="round"/>
<path d="M65.6,686 C67.9,684.28 74.62,679.74 79.42,675.7 C84.22,671.66 90.65,665.81 94.41,661.77 C98.16,657.73 99.5,655.31 101.97,651.47 C104.44,647.64 106.12,644.91 109.25,638.75 C112.37,632.6 117.2,622.8 120.74,614.53 C124.28,606.25 127.07,597.9 130.49,589.09 C133.91,580.27 139.46,566.22 141.25,561.65" fill="none" stroke="#1f7a4c" stroke-width="1.45" stroke-linecap="round" stroke-linejoin="round"/>
<line x1="124.3" y1="527.5" x2="270" y2="552.8" stroke="#1a1a1a" stroke-width="1.15" />
<line x1="133.4" y1="544.2" x2="221" y2="560.1" stroke="#1a1a1a" stroke-width="1.15" />
<line x1="134.2" y1="556.4" x2="200.2" y2="571.4" stroke="#1a1a1a" stroke-width="1.15" />
<line x1="125" y1="569.3" x2="183" y2="583.5" stroke="#1a1a1a" stroke-width="1.15" />
<line x1="121.7" y1="589.8" x2="148.4" y2="596" stroke="#1a1a1a" stroke-width="1.15" />
<line x1="106.7" y1="607.2" x2="120.1" y2="612.5" stroke="#1a1a1a" stroke-width="1.15" />
<text x="89.6" y="529.7" font-size="10.3" text-anchor="start" fill="#4a4a4a" font-weight="normal" >dc =</text>
<text x="119.2" y="529.7" font-size="10.3" text-anchor="start" fill="#4a4a4a" font-weight="normal" >1</text>
<text x="115.8" y="544" font-size="10.3" text-anchor="start" fill="#4a4a4a" font-weight="normal" >0.5</text>
<text x="114.4" y="556.5" font-size="10.3" text-anchor="start" fill="#4a4a4a" font-weight="normal" >0.4</text>
<text x="104.5" y="572.6" font-size="10.3" text-anchor="start" fill="#4a4a4a" font-weight="normal" >0.33</text>
<text x="102.3" y="589.5" font-size="10.3" text-anchor="start" fill="#4a4a4a" font-weight="normal" >0.17</text>
<text x="98.2" y="605.6" font-size="10.3" text-anchor="start" fill="#4a4a4a" font-weight="normal" >0.08</text>
</g>
<g id="c7">
<line x1="371.46" y1="516.4" x2="371.46" y2="686" stroke="#111" stroke-width="0.95" />
<line x1="422.72" y1="516.4" x2="422.72" y2="686" stroke="#111" stroke-width="0.95" />
<line x1="473.98" y1="516.4" x2="473.98" y2="686" stroke="#111" stroke-width="0.95" />
<line x1="525.24" y1="516.4" x2="525.24" y2="686" stroke="#111" stroke-width="0.95" />
<line x1="320.2" y1="540.63" x2="576.5" y2="540.63" stroke="#111" stroke-width="0.95" />
<line x1="320.2" y1="564.86" x2="576.5" y2="564.86" stroke="#111" stroke-width="0.95" />
<line x1="320.2" y1="589.09" x2="576.5" y2="589.09" stroke="#111" stroke-width="0.95" />
<line x1="320.2" y1="613.31" x2="576.5" y2="613.31" stroke="#111" stroke-width="0.95" />
<line x1="320.2" y1="637.54" x2="576.5" y2="637.54" stroke="#111" stroke-width="0.95" />
<line x1="320.2" y1="661.77" x2="576.5" y2="661.77" stroke="#111" stroke-width="0.95" />
<line x1="320.2" y1="516.4" x2="576.5" y2="516.4" stroke="#111" stroke-width="1.25" />
<line x1="320.2" y1="686" x2="576.5" y2="686" stroke="#111" stroke-width="1.25" />
<line x1="576.5" y1="515.77" x2="576.5" y2="686.62" stroke="#111" stroke-width="1.25" />
<text x="481.8" y="495.1" font-size="10.0" text-anchor="middle" fill="#1f7a4c" font-weight="bold"  textLength="204.1" lengthAdjust="spacing">Power Output vs. Ambient Temperature</text>
<text x="322.88" y="705.8" font-size="11.2" text-anchor="middle" fill="#4a4a4a" font-weight="normal"  letter-spacing="0.35">0</text>
<text x="371.63" y="705.8" font-size="11.2" text-anchor="middle" fill="#4a4a4a" font-weight="normal"  letter-spacing="0.35">30</text>
<text x="422.9" y="705.8" font-size="11.2" text-anchor="middle" fill="#4a4a4a" font-weight="normal"  letter-spacing="0.35">60</text>
<text x="474.16" y="705.8" font-size="11.2" text-anchor="middle" fill="#4a4a4a" font-weight="normal"  letter-spacing="0.35">90</text>
<text x="525.41" y="705.8" font-size="11.2" text-anchor="middle" fill="#4a4a4a" font-weight="normal"  letter-spacing="0.35">120</text>
<text x="576.67" y="705.8" font-size="11.2" text-anchor="middle" fill="#4a4a4a" font-weight="normal"  letter-spacing="0.35">150</text>
<text x="448" y="724" font-size="11.0" text-anchor="middle" fill="#4a4a4a" font-weight="normal"  textLength="168.2" lengthAdjust="spacing">Ambient Temperature, T<tspan font-size="7" dy="2">amb</tspan><tspan dy="-2" font-size="1">&#8203;</tspan> (°C)</text>
<rect x="388" y="520.5" width="26" height="11" fill="#fff" stroke="none" stroke-width="1.0"/>
<rect x="399" y="536.5" width="17" height="9.5" fill="#fff" stroke="none" stroke-width="1.0"/>
<rect x="410" y="549" width="18" height="9.5" fill="#fff" stroke="none" stroke-width="1.0"/>
<rect x="413" y="564.5" width="18" height="9.5" fill="#fff" stroke="none" stroke-width="1.0"/>
<rect x="430" y="576.3" width="18" height="9.5" fill="#fff" stroke="none" stroke-width="1.0"/>
<rect x="449" y="587.6" width="18" height="9.5" fill="#fff" stroke="none" stroke-width="1.0"/>
<rect x="467" y="594.7" width="18" height="9.5" fill="#fff" stroke="none" stroke-width="1.0"/>
<line x1="320.2" y1="520.7" x2="576.5" y2="685.7" stroke="#1f7a4c" stroke-width="1.45" stroke-linecap="round"/>
<line x1="320.2" y1="586.1" x2="576.5" y2="685.7" stroke="#1f7a4c" stroke-width="1.45" stroke-linecap="round"/>
<line x1="320.2" y1="604.4" x2="576.5" y2="685.7" stroke="#1f7a4c" stroke-width="1.45" stroke-linecap="round"/>
<line x1="320.2" y1="616.5" x2="576.5" y2="685.7" stroke="#1f7a4c" stroke-width="1.45" stroke-linecap="round"/>
<line x1="320.2" y1="647.3" x2="576.5" y2="685.7" stroke="#1f7a4c" stroke-width="1.45" stroke-linecap="round"/>
<line x1="320.2" y1="665" x2="576.5" y2="685.7" stroke="#1f7a4c" stroke-width="1.45" stroke-linecap="round"/>
<line x1="394" y1="542.4" x2="371.4" y2="552.3" stroke="#1a1a1a" stroke-width="1.15" />
<line x1="407.2" y1="552.8" x2="338.2" y2="588.9" stroke="#1a1a1a" stroke-width="1.15" />
<line x1="409.2" y1="569.8" x2="340.4" y2="608.1" stroke="#1a1a1a" stroke-width="1.15" />
<line x1="427" y1="581.9" x2="352.3" y2="625" stroke="#1a1a1a" stroke-width="1.15" />
<line x1="445.3" y1="593.1" x2="348.9" y2="650.1" stroke="#1a1a1a" stroke-width="1.15" />
<line x1="467" y1="604.4" x2="361.3" y2="668.4" stroke="#1a1a1a" stroke-width="1.15" />
<text x="388.9" y="528.3" font-size="10.6" text-anchor="start" fill="#4a4a4a" font-weight="normal" >R<tspan font-size="6.3" dy="2">th(h-a)</tspan><tspan dy="-2" font-size="1">&#8203;</tspan></text>
<text x="399.6" y="543.8" font-size="10.4" text-anchor="start" fill="#4a4a4a" font-weight="normal" >0.4</text>
<text x="410.9" y="556.5" font-size="10.4" text-anchor="start" fill="#4a4a4a" font-weight="normal" >0.6</text>
<text x="413.7" y="572" font-size="10.4" text-anchor="start" fill="#4a4a4a" font-weight="normal" >0.8</text>
<text x="430.6" y="583.8" font-size="10.4" text-anchor="start" fill="#4a4a4a" font-weight="normal" >1.0</text>
<text x="449.5" y="595.1" font-size="10.4" text-anchor="start" fill="#4a4a4a" font-weight="normal" >2.0</text>
<text x="467.8" y="602.2" font-size="10.4" text-anchor="start" fill="#4a4a4a" font-weight="normal" >4.0</text>
</g>
<g id="c8">
<line x1="684.68" y1="525" x2="684.68" y2="676.5" stroke="#111" stroke-width="0.95" />
<line x1="695.07" y1="525" x2="695.07" y2="676.5" stroke="#111" stroke-width="0.95" />
<line x1="702.45" y1="525" x2="702.45" y2="676.5" stroke="#111" stroke-width="0.95" />
<line x1="708.17" y1="525" x2="708.17" y2="676.5" stroke="#111" stroke-width="0.95" />
<line x1="712.85" y1="525" x2="712.85" y2="676.5" stroke="#111" stroke-width="0.95" />
<line x1="716.8" y1="525" x2="716.8" y2="676.5" stroke="#111" stroke-width="0.95" />
<line x1="720.23" y1="525" x2="720.23" y2="676.5" stroke="#111" stroke-width="0.95" />
<line x1="723.25" y1="525" x2="723.25" y2="676.5" stroke="#111" stroke-width="0.95" />
<line x1="725.95" y1="525" x2="725.95" y2="676.5" stroke="#111" stroke-width="0.95" />
<line x1="743.73" y1="525" x2="743.73" y2="676.5" stroke="#111" stroke-width="0.95" />
<line x1="754.12" y1="525" x2="754.12" y2="676.5" stroke="#111" stroke-width="0.95" />
<line x1="761.5" y1="525" x2="761.5" y2="676.5" stroke="#111" stroke-width="0.95" />
<line x1="767.22" y1="525" x2="767.22" y2="676.5" stroke="#111" stroke-width="0.95" />
<line x1="771.9" y1="525" x2="771.9" y2="676.5" stroke="#111" stroke-width="0.95" />
<line x1="775.85" y1="525" x2="775.85" y2="676.5" stroke="#111" stroke-width="0.95" />
<line x1="779.28" y1="525" x2="779.28" y2="676.5" stroke="#111" stroke-width="0.95" />
<line x1="782.3" y1="525" x2="782.3" y2="676.5" stroke="#111" stroke-width="0.95" />
<line x1="785" y1="525" x2="785" y2="676.5" stroke="#111" stroke-width="0.95" />
<line x1="802.78" y1="525" x2="802.78" y2="676.5" stroke="#111" stroke-width="0.95" />
<line x1="813.17" y1="525" x2="813.17" y2="676.5" stroke="#111" stroke-width="0.95" />
<line x1="820.55" y1="525" x2="820.55" y2="676.5" stroke="#111" stroke-width="0.95" />
<line x1="826.27" y1="525" x2="826.27" y2="676.5" stroke="#111" stroke-width="0.95" />
<line x1="830.95" y1="525" x2="830.95" y2="676.5" stroke="#111" stroke-width="0.95" />
<line x1="834.9" y1="525" x2="834.9" y2="676.5" stroke="#111" stroke-width="0.95" />
<line x1="838.33" y1="525" x2="838.33" y2="676.5" stroke="#111" stroke-width="0.95" />
<line x1="841.35" y1="525" x2="841.35" y2="676.5" stroke="#111" stroke-width="0.95" />
<line x1="844.05" y1="525" x2="844.05" y2="676.5" stroke="#111" stroke-width="0.95" />
<line x1="861.83" y1="525" x2="861.83" y2="676.5" stroke="#111" stroke-width="0.95" />
<line x1="872.22" y1="525" x2="872.22" y2="676.5" stroke="#111" stroke-width="0.95" />
<line x1="879.6" y1="525" x2="879.6" y2="676.5" stroke="#111" stroke-width="0.95" />
<line x1="885.32" y1="525" x2="885.32" y2="676.5" stroke="#111" stroke-width="0.95" />
<line x1="890" y1="525" x2="890" y2="676.5" stroke="#111" stroke-width="0.95" />
<line x1="893.95" y1="525" x2="893.95" y2="676.5" stroke="#111" stroke-width="0.95" />
<line x1="897.38" y1="525" x2="897.38" y2="676.5" stroke="#111" stroke-width="0.95" />
<line x1="900.4" y1="525" x2="900.4" y2="676.5" stroke="#111" stroke-width="0.95" />
<line x1="666.9" y1="531.06" x2="903.1" y2="531.06" stroke="#111" stroke-width="0.95" />
<line x1="666.9" y1="537.12" x2="903.1" y2="537.12" stroke="#111" stroke-width="0.95" />
<line x1="666.9" y1="543.18" x2="903.1" y2="543.18" stroke="#111" stroke-width="0.95" />
<line x1="666.9" y1="549.24" x2="903.1" y2="549.24" stroke="#111" stroke-width="0.95" />
<line x1="666.9" y1="555.3" x2="903.1" y2="555.3" stroke="#111" stroke-width="0.95" />
<line x1="666.9" y1="561.36" x2="903.1" y2="561.36" stroke="#111" stroke-width="0.95" />
<line x1="666.9" y1="567.42" x2="903.1" y2="567.42" stroke="#111" stroke-width="0.95" />
<line x1="666.9" y1="573.48" x2="903.1" y2="573.48" stroke="#111" stroke-width="0.95" />
<line x1="666.9" y1="579.54" x2="903.1" y2="579.54" stroke="#111" stroke-width="0.95" />
<line x1="666.9" y1="585.6" x2="903.1" y2="585.6" stroke="#111" stroke-width="0.95" />
<line x1="666.9" y1="591.66" x2="903.1" y2="591.66" stroke="#111" stroke-width="0.95" />
<line x1="666.9" y1="597.72" x2="903.1" y2="597.72" stroke="#111" stroke-width="0.95" />
<line x1="666.9" y1="603.78" x2="903.1" y2="603.78" stroke="#111" stroke-width="0.95" />
<line x1="666.9" y1="609.84" x2="903.1" y2="609.84" stroke="#111" stroke-width="0.95" />
<line x1="666.9" y1="615.9" x2="903.1" y2="615.9" stroke="#111" stroke-width="0.95" />
<line x1="666.9" y1="621.96" x2="903.1" y2="621.96" stroke="#111" stroke-width="0.95" />
<line x1="666.9" y1="628.02" x2="903.1" y2="628.02" stroke="#111" stroke-width="0.95" />
<line x1="666.9" y1="634.08" x2="903.1" y2="634.08" stroke="#111" stroke-width="0.95" />
<line x1="666.9" y1="640.14" x2="903.1" y2="640.14" stroke="#111" stroke-width="0.95" />
<line x1="666.9" y1="646.2" x2="903.1" y2="646.2" stroke="#111" stroke-width="0.95" />
<line x1="666.9" y1="652.26" x2="903.1" y2="652.26" stroke="#111" stroke-width="0.95" />
<line x1="666.9" y1="658.32" x2="903.1" y2="658.32" stroke="#111" stroke-width="0.95" />
<line x1="666.9" y1="664.38" x2="903.1" y2="664.38" stroke="#111" stroke-width="0.95" />
<line x1="666.9" y1="670.44" x2="903.1" y2="670.44" stroke="#111" stroke-width="0.95" />
<rect x="666.9" y="525" width="236.2" height="151.5" fill="none" stroke="#111" stroke-width="1.25"/>
<text x="781.7" y="494.1" font-size="10.1" text-anchor="middle" fill="#1f7a4c" font-weight="bold"  textLength="147.8" lengthAdjust="spacing">Transient Thermal Impedance,</text>
<text x="759.8" y="506.1" font-size="10.1" text-anchor="middle" fill="#1f7a4c" font-weight="bold"  textLength="81.7" lengthAdjust="spacing">Junction to Case</text>
<text x="656.65" y="528.6" font-size="10.4" text-anchor="end" fill="#4a4a4a" font-weight="normal"  letter-spacing="0.55">0.20</text>
<text x="656.65" y="558.9" font-size="10.4" text-anchor="end" fill="#4a4a4a" font-weight="normal"  letter-spacing="0.55">0.16</text>
<text x="656.65" y="589.2" font-size="10.4" text-anchor="end" fill="#4a4a4a" font-weight="normal"  letter-spacing="0.55">0.12</text>
<text x="656.65" y="619.5" font-size="10.4" text-anchor="end" fill="#4a4a4a" font-weight="normal"  letter-spacing="0.55">0.08</text>
<text x="656.65" y="649.8" font-size="10.4" text-anchor="end" fill="#4a4a4a" font-weight="normal"  letter-spacing="0.55">0.04</text>
<text x="656.65" y="680.1" font-size="10.4" text-anchor="end" fill="#4a4a4a" font-weight="normal"  letter-spacing="0.55">0.00</text>
<text x="667.12" y="694.7" font-size="10.4" text-anchor="middle" fill="#4a4a4a" font-weight="normal"  letter-spacing="0.45">1</text>
<text x="726.18" y="694.7" font-size="10.4" text-anchor="middle" fill="#4a4a4a" font-weight="normal"  letter-spacing="0.45">10</text>
<text x="785.23" y="694.7" font-size="10.4" text-anchor="middle" fill="#4a4a4a" font-weight="normal"  letter-spacing="0.45">100</text>
<text x="844.27" y="694.7" font-size="10.4" text-anchor="middle" fill="#4a4a4a" font-weight="normal"  letter-spacing="0.45">1000</text>
<text x="903.33" y="694.7" font-size="10.4" text-anchor="middle" fill="#4a4a4a" font-weight="normal"  letter-spacing="0.45">10000</text>
<text x="784.6" y="712" font-size="10.4" text-anchor="middle" fill="#4a4a4a" font-weight="normal"  textLength="61.3" lengthAdjust="spacing">Time, t (ms)</text>
<text x="613" y="606.9" font-size="10.4" text-anchor="middle" fill="#4a4a4a" font-weight="normal" transform="rotate(-90 613 606.9)"  textLength="156.6" lengthAdjust="spacing">Transient Thermal Impedance,</text>
<text x="627.2" y="606.6" font-size="10.4" text-anchor="middle" fill="#4a4a4a" font-weight="normal" transform="rotate(-90 627.2 606.6)"  textLength="148.9" lengthAdjust="spacing">Junction to Case, Z<tspan font-size="6.5" dy="1.5">th(j-c)</tspan><tspan dy="-1.5" font-size="1">&#8203;</tspan> (K/W)</text>
<path d="M684.68,660.05 L687.41,659.52 L690.14,658.94 L692.87,658.3 L695.6,657.61 L698.33,656.85 L701.06,656.03 L703.79,655.14 L706.52,654.18 L709.25,653.15 L711.98,652.03 L714.71,650.84 L717.44,649.57 L720.17,648.22 L722.9,646.79 L725.63,645.29 L728.36,643.72 L731.09,642.08 L733.82,640.37 L736.55,638.62 L739.28,636.82 L742.01,634.98 L744.74,633.12 L747.47,631.23 L750.2,629.33 L752.93,627.42 L755.66,625.51 L758.39,623.58 L761.12,621.64 L763.85,619.69 L766.58,617.71 L769.32,615.69 L772.05,613.63 L774.78,611.51 L777.51,609.33 L780.24,607.08 L782.97,604.76 L785.7,602.36 L788.43,599.89 L791.16,597.37 L793.89,594.79 L796.62,592.19 L799.35,589.58 L802.08,587 L804.81,584.46 L807.54,581.99 L810.27,579.64 L813,577.41 L815.73,575.34 L818.46,573.44 L821.19,571.73 L823.92,570.21 L826.65,568.87 L829.38,567.72 L832.11,566.73 L834.84,565.9 L837.57,565.22 L840.3,564.65 L843.03,564.19 L845.76,563.83 L848.49,563.54 L851.22,563.33 L853.95,563.17 L856.68,563.06 L859.42,562.98 L862.15,562.94 L864.88,562.91 L867.61,562.89 L870.34,562.88 L873.07,562.88 L875.8,562.88 L878.53,562.88 L881.26,562.88 L883.99,562.88 L886.72,562.88 L889.45,562.88 L892.18,562.88 L894.91,562.88 L897.64,562.88 L900.37,562.88 L903.1,562.88" fill="none" stroke="#1f7a4c" stroke-width="1.6" stroke-linecap="round" stroke-linejoin="round"/>
<rect x="795" y="601" width="100.3" height="65.5" fill="#fff" stroke="#aaa" stroke-width="0.7"/>
<text x="799.2" y="610.8" font-size="8.4" text-anchor="middle" fill="#222" font-weight="bold" >i</text>
<text x="830.57" y="610.8" font-size="8.4" text-anchor="middle" fill="#222" font-weight="bold"  letter-spacing="0.35">R<tspan font-size="5.04" dy="1.2">thi</tspan><tspan dy="-1.2" font-size="1">&#8203;</tspan> (K/W)</text>
<text x="874.17" y="610.8" font-size="8.4" text-anchor="middle" fill="#222" font-weight="bold"  letter-spacing="0.35">t<tspan font-size="5.04" dy="1.2">i</tspan><tspan dy="-1.2" font-size="1">&#8203;</tspan> (s)</text>
<text x="799.2" y="622" font-size="8.4" text-anchor="middle" fill="#444" font-weight="normal" >1</text>
<text x="830.55" y="622" font-size="8.4" text-anchor="middle" fill="#444" font-weight="normal"  letter-spacing="0.3">0.024</text>
<text x="871.95" y="622" font-size="8.4" text-anchor="middle" fill="#444" font-weight="normal"  letter-spacing="0.3">0.0110</text>
<text x="799.2" y="632.9" font-size="8.4" text-anchor="middle" fill="#444" font-weight="normal" >2</text>
<text x="830.55" y="632.9" font-size="8.4" text-anchor="middle" fill="#444" font-weight="normal"  letter-spacing="0.3">0.015</text>
<text x="871.95" y="632.9" font-size="8.4" text-anchor="middle" fill="#444" font-weight="normal"  letter-spacing="0.3">0.0001</text>
<text x="799.2" y="643.8" font-size="8.4" text-anchor="middle" fill="#444" font-weight="normal" >3</text>
<text x="830.55" y="643.8" font-size="8.4" text-anchor="middle" fill="#444" font-weight="normal"  letter-spacing="0.3">0.017</text>
<text x="871.95" y="643.8" font-size="8.4" text-anchor="middle" fill="#444" font-weight="normal"  letter-spacing="0.3">0.0200</text>
<text x="799.2" y="654.8" font-size="8.4" text-anchor="middle" fill="#444" font-weight="normal" >4</text>
<text x="830.55" y="654.8" font-size="8.4" text-anchor="middle" fill="#444" font-weight="normal"  letter-spacing="0.3">0.026</text>
<text x="871.95" y="654.8" font-size="8.4" text-anchor="middle" fill="#444" font-weight="normal"  letter-spacing="0.3">0.3500</text>
<text x="799.2" y="665.7" font-size="8.4" text-anchor="middle" fill="#444" font-weight="normal" >5</text>
<text x="830.55" y="665.7" font-size="8.4" text-anchor="middle" fill="#444" font-weight="normal"  letter-spacing="0.3">0.068</text>
<text x="871.95" y="665.7" font-size="8.4" text-anchor="middle" fill="#444" font-weight="normal"  letter-spacing="0.3">0.1400</text>
</g>
</g>
</svg>
</body>
</html>
